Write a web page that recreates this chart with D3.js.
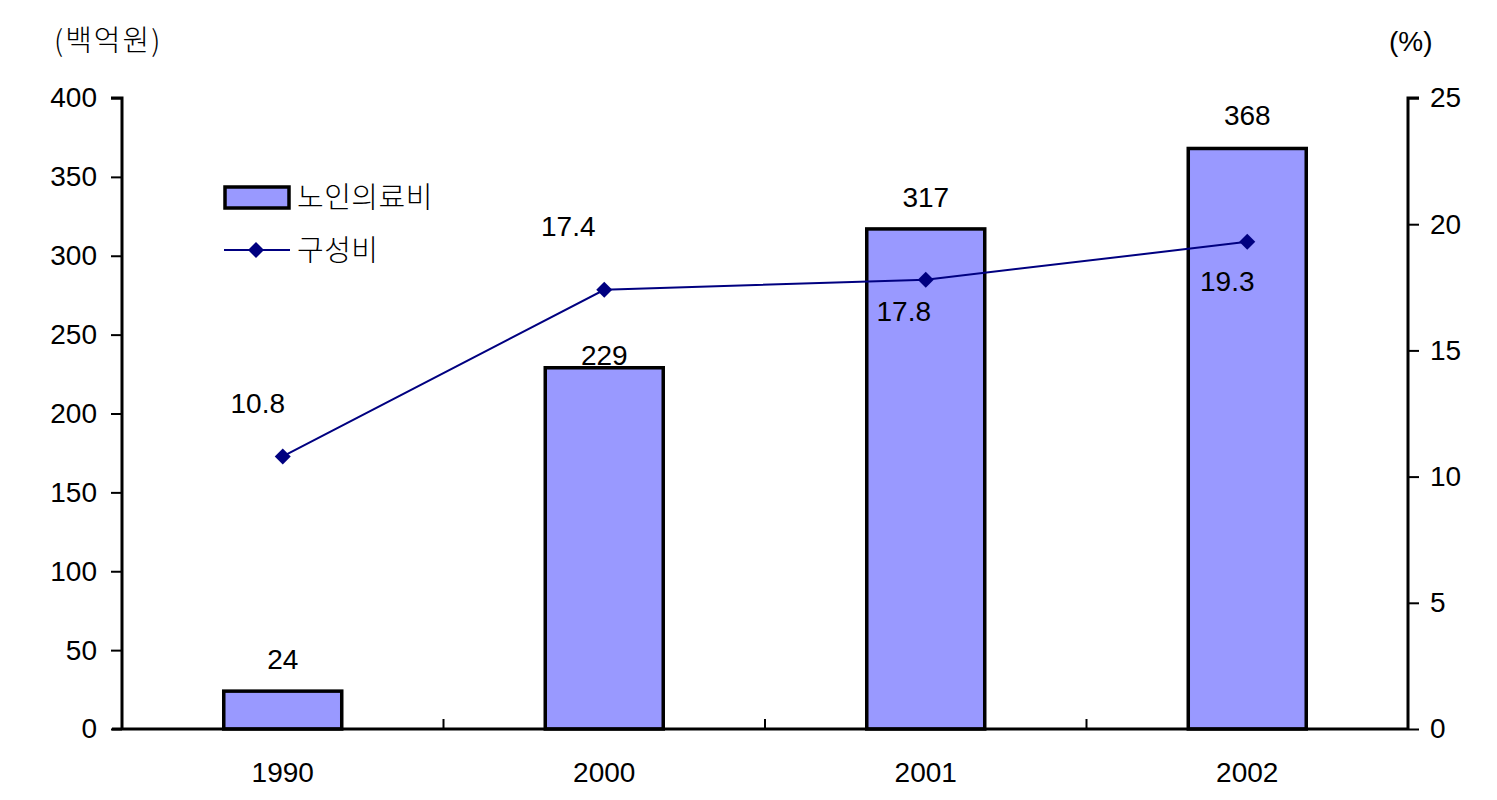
<!DOCTYPE html>
<html><head><meta charset="utf-8">
<script src="https://cdn.jsdelivr.net/npm/d3@7"></script>
<style>
body{margin:0;background:#fff;}
text{font-family:"Liberation Sans",Arial,sans-serif;fill:#000;}
.kr{font-family:"Noto Sans CJK KR","Liberation Sans",sans-serif;font-weight:300;}
</style></head>
<body>
<svg id="c" width="1497" height="800"></svg>
<script>
const categories = ["1990","2000","2001","2002"];
const costValues = [24, 229, 317, 368];
const ratioValues = [10.8, 17.4, 17.8, 19.3];
const leftTicks = [0,50,100,150,200,250,300,350,400];
const rightTicks = [0,5,10,15,20,25];
const seriesNames = ["노인의료비","구성비"];
const leftUnit = "(백억원)";
const rightUnit = "(%)";

const svg = d3.select("#c");
const L = 122, R = 1408, T = 98, B = 729;
const x = d3.scaleBand().domain(categories).range([L,R]).paddingInner(0.633).paddingOuter(0.3165);
const yL = d3.scaleLinear().domain([0,400]).range([B,T]);
const yR = d3.scaleLinear().domain([0,25]).range([B,T]);
const fs = 28;

// bars
svg.selectAll("rect.bar").data(costValues).join("rect")
  .attr("x",(d,i)=>x(categories[i])).attr("y",d=>yL(d))
  .attr("width",x.bandwidth()).attr("height",d=>B-yL(d))
  .attr("fill","#9999FF").attr("stroke","#000").attr("stroke-width",3.5);

// bottom axis line + inner ticks at boundaries
svg.append("line").attr("x1",112).attr("x2",R).attr("y1",B).attr("y2",B).attr("stroke","#000").attr("stroke-width",3);
categories.slice(1).forEach((c,i)=>{
  const bx = (x(categories[i]) + x.bandwidth() + x(c))/2;
  svg.append("line").attr("x1",bx).attr("x2",bx).attr("y1",B).attr("y2",B-10).attr("stroke","#000").attr("stroke-width",2);
});

// left axis
const gl = svg.append("g").attr("transform",`translate(${L},0)`)
  .call(d3.axisLeft(yL).tickValues(leftTicks).tickSize(11).tickPadding(14));
gl.select(".domain").attr("stroke-width",3).attr("d",`M-11,${T}H0V${B}`);
gl.selectAll(".tick line").attr("stroke-width",2);
gl.selectAll(".tick text").attr("font-size",fs).attr("font-family","Liberation Sans, Arial").attr("fill","#000");

// right axis
const gr = svg.append("g").attr("transform",`translate(${R},0)`)
  .call(d3.axisRight(yR).tickValues(rightTicks).tickSize(11).tickPadding(11));
gr.select(".domain").attr("stroke-width",3).attr("d",`M11,${T}H0V${B}`);
gr.selectAll(".tick line").attr("stroke-width",2);
gr.selectAll(".tick text").attr("font-size",fs).attr("font-family","Liberation Sans, Arial").attr("fill","#000");

// x labels
svg.selectAll("text.xl").data(categories).join("text")
  .attr("x",d=>x(d)+x.bandwidth()/2).attr("y",782).attr("text-anchor","middle")
  .attr("font-size",fs).text(d=>d);

// line
const cx = (i)=>x(categories[i])+x.bandwidth()/2;
const line = d3.line().x((d,i)=>cx(i)).y(d=>yR(d));
svg.append("path").datum(ratioValues).attr("d",line).attr("fill","none").attr("stroke","#000080").attr("stroke-width",2);
const dpath = "M0,-8L8,0L0,8L-8,0Z";
svg.selectAll("path.pt").data(ratioValues).join("path")
  .attr("transform",(d,i)=>`translate(${cx(i)},${yR(d)})`)
  .attr("d",dpath).attr("fill","#000080");

// bar labels
const barLabelDy = [-22, -3, -22, -23];
svg.selectAll("text.bl").data(costValues).join("text")
  .attr("x",(d,i)=>cx(i)).attr("y",(d,i)=>yL(d)+barLabelDy[i]).attr("text-anchor","middle")
  .attr("font-size",fs).text(d=>d);

// line labels
const lineLabelDy = [-43, -54, 41, 49];
const lineLabelDx = [-25, -36, -22, -20];
svg.selectAll("text.ll").data(ratioValues).join("text")
  .attr("x",(d,i)=>cx(i)+lineLabelDx[i]).attr("y",(d,i)=>yR(d)+lineLabelDy[i]).attr("text-anchor","middle")
  .attr("font-size",fs).text(d=>d.toFixed(1));

// legend
svg.append("rect").attr("x",225).attr("y",187).attr("width",64).attr("height",21)
  .attr("fill","#9999FF").attr("stroke","#000").attr("stroke-width",3.5);
svg.append("text").attr("class","kr").attr("x",297).attr("y",208).attr("font-size",29).attr("letter-spacing",0.5).text(seriesNames[0]);
svg.append("line").attr("x1",224).attr("x2",290).attr("y1",250).attr("y2",250).attr("stroke","#000080").attr("stroke-width",2);
svg.append("path").attr("transform","translate(256,250)").attr("d",dpath).attr("fill","#000080");
svg.append("text").attr("class","kr").attr("x",297).attr("y",261).attr("font-size",29).attr("letter-spacing",0.5).text(seriesNames[1]);

// units
svg.append("text").attr("class","kr").attr("x",54).attr("y",51).attr("font-size",29).attr("letter-spacing",2).text(leftUnit);
svg.append("text").attr("x",1389).attr("y",51).attr("font-size",fs).text(rightUnit);
</script>
</body></html>
